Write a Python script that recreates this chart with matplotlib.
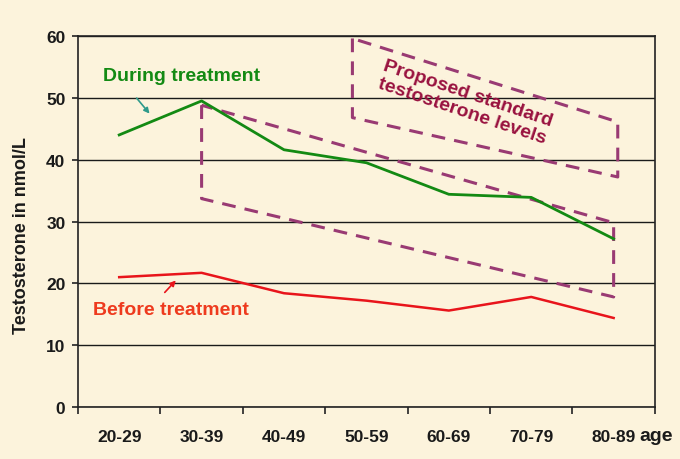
import matplotlib
matplotlib.use("Agg")
import matplotlib.pyplot as plt
import numpy as np

plt.rcParams['font.family'] = ['Liberation Sans', 'DejaVu Sans']

ages = ["20-29", "30-39", "40-49", "50-59", "60-69", "70-79", "80-89"]
during = [44.0, 49.5, 41.6, 39.5, 34.4, 33.9, 27.2]
before = [21.0, 21.7, 18.4, 17.2, 15.6, 17.8, 14.4]

# proposed standard band (category index, value)
band_x = [1, 1, 6, 6, 1]
band_y = [48.8, 33.7, 17.8, 29.8, 48.8]
# label box around text
box_x = [2.83, 2.83, 6.05, 6.05, 2.83]
box_y = [59.6, 46.8, 37.2, 46.1, 59.6]

bg = '#FCF3DC'
fig = plt.figure(figsize=(6.8, 4.6), dpi=100, facecolor=bg)
ax = fig.add_axes([0.1147, 0.113, 0.8483, 0.8066], facecolor=bg)

x = np.arange(len(ages))
ax.plot(x, during, color='#138A13', lw=2.0, zorder=3)
ax.plot(x, before, color='#E8141B', lw=1.8, zorder=3)

dash = (0, (4.5, 3))
ax.plot(band_x, band_y, color='#993A73', lw=2.2, linestyle=dash, zorder=2)
ax.plot(box_x, box_y, color='#993A73', lw=2.2, linestyle=dash, zorder=2)

ax.set_xlim(-0.5, 6.5)
ax.set_ylim(0, 60)
ax.set_yticks([0, 10, 20, 30, 40, 50, 60])
ax.set_xticks(x)
ax.set_xticklabels(ages)
ax.set_xticks(np.arange(-0.5, 7.0, 1.0), minor=True)
ax.tick_params(axis='x', which='major', length=0, pad=16, labelsize=12.5)
ax.tick_params(axis='x', which='minor', length=5, width=1.2, direction='out', color='#222222')
ax.tick_params(axis='y', length=4, width=1.2, labelsize=12.5, pad=5, color='#222222')
for lab in ax.get_xticklabels() + ax.get_yticklabels():
    lab.set_fontweight('bold')
    lab.set_color('#1a1a1a')

ax.grid(axis='y', color='#1a1a1a', lw=1.0)
ax.set_axisbelow(True)
for s in ax.spines.values():
    s.set_color('#222222')
    s.set_linewidth(1.2)

ax.set_ylabel("Testosterone in nmol/L", fontsize=13, fontweight='bold', color='#1a1a1a')
ax.yaxis.set_label_coords(-0.083, 0.466)
fig.text(0.965, 0.052, "age", fontsize=14, fontweight='bold', color='#1a1a1a', ha='center', va='center')

ax.text(0.76, 53.6, "During treatment", color='#138A13', fontsize=14, fontweight='bold', ha='center', va='center')
ax.annotate("", xy=(0.39, 47.1), xytext=(0.19, 50.3),
            arrowprops=dict(arrowstyle='-|>', color='#2E9A8A', lw=1.2, mutation_scale=8))

ax.text(0.625, 15.7, "Before treatment", color='#EE3A1E', fontsize=14, fontweight='bold', ha='center', va='center')
ax.annotate("", xy=(0.71, 20.8), xytext=(0.53, 18.2),
            arrowprops=dict(arrowstyle='-|>', color='#E8141B', lw=1.2, mutation_scale=8))

ax.text(4.19, 49.4, "Proposed standard\ntestosterone levels", color='#99123F', fontsize=14,
        fontweight='bold', ha='center', va='center', rotation=-18.5, linespacing=1.1,
        rotation_mode='anchor')

fig.savefig("out.png", dpi=100, facecolor=bg)
